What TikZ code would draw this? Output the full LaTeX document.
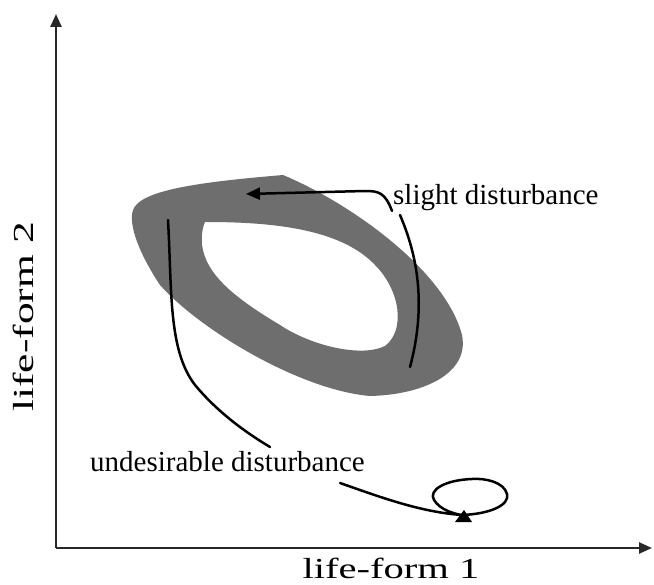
\documentclass[tikz,border=0pt]{standalone}
\usepackage{fontspec}
\setmainfont{Liberation Serif}
\usetikzlibrary{arrows.meta}
\definecolor{ringgray}{RGB}{110,110,110}
\definecolor{axisgray}{RGB}{40,40,40}
\begin{document}
\begin{tikzpicture}[x=1pt,y=-1pt,
  axis/.style={draw=axisgray,line width=2.4pt,-{Triangle[length=13pt,width=11pt]}},
  curve/.style={draw=black,line width=2.5pt,line cap=round},
  lbl/.style={inner sep=0pt,font=\fontsize{29}{34}\selectfont}]
\useasboundingbox (0,0) rectangle (654,585);
% grey band
\fill[ringgray,even odd rule]
  (283,175) .. controls (350,203) and (445,270) .. (462,335)
  .. controls (470,375) and (420,395) .. (370,396)
  .. controls (300,390) and (200,330) .. (160,285)
  .. controls (140,255) and (128,225) .. (133,210)
  .. controls (140,190) and (200,182) .. (283,175) -- cycle
  (205,222) .. controls (270,222) and (340,228) .. (375,265)
  .. controls (400,290) and (406,330) .. (385,346)
  .. controls (360,358) and (310,345) .. (280,325)
  .. controls (235,298) and (206,275) .. (202,245)
  .. controls (201,235) and (203,226) .. (205,222) -- cycle;
% axes
\coordinate (O) at (56,548);
\coordinate (ytip) at (56,14);
\coordinate (xtip) at (652,548);
\draw[axis] (O) -- (ytip);
\draw[axis] (O) -- (xtip);
% labels
\node[lbl,anchor=base] (xl) at (391,578) {\scalebox{1.4}[1]{life-form 1}};
\node[lbl,anchor=base,rotate=90] (yl) at (33,317) {\scalebox{1.5}[1]{life-form 2}};
\node[lbl,anchor=base west] (sd) at (393,205) {slight disturbance};
\node[lbl,anchor=base west] (ud) at (90,472) {undesirable disturbance};
% slight disturbance connectors
\coordinate (s1) at ([xshift=-1pt,yshift=-6pt]sd.base west);
\coordinate (s2) at (246,194);
\draw[curve,-{Triangle[length=14pt,width=12pt]}] (s1) .. controls (385,192) and (378,191) .. (365,191) -- (s2);
\coordinate (s3) at (400,215);
\coordinate (s4) at (410,367);
\draw[curve] (s3) .. controls (415,250) and (428,300) .. (s4);
% undesirable disturbance connectors
\coordinate (u1) at (168,220);
\coordinate (u2) at (270,447);
\draw[curve] (u1) .. controls (172,290) and (168,350) .. (195,385)
  .. controls (220,415) and (250,435) .. (u2);
\coordinate (u3) at (340,483);
\coordinate (eq) at (462,515);
\draw[curve] (u3) .. controls (380,497) and (420,512) .. (eq)
  .. controls (490,514) and (510,505) .. (507,494)
  .. controls (504,482) and (485,478) .. (472,479)
  .. controls (445,480) and (428,490) .. (434,500)
  .. controls (440,510) and (455,514) .. (eq);
\fill[black] (464,510) -- (472,522) -- (455,522) -- cycle;
\end{tikzpicture}
\end{document}
